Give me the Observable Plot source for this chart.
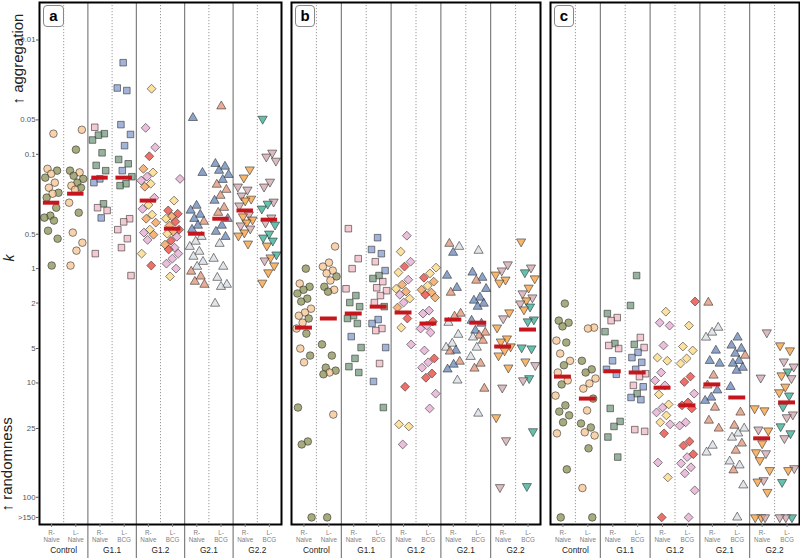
<!DOCTYPE html>
<html><head><meta charset="utf-8">
<script src="https://cdn.jsdelivr.net/npm/d3@7"></script>
<script src="https://cdn.jsdelivr.net/npm/@observablehq/plot@0.6"></script>
<style>
body{margin:0;background:#fff;font-family:"Liberation Sans",Arial,sans-serif;}
#wrap{position:relative;width:800px;height:558px;overflow:hidden;background:#fff;}
.chart{position:absolute;top:0;}
.tag{position:absolute;top:5px;height:20px;border:1px solid #888;border-radius:4px;font:bold 15px "Liberation Sans",Arial,sans-serif;text-align:center;line-height:20px;background:#fff;color:#000;box-sizing:content-box;}
</style></head><body><div id="wrap"></div>
<script>
// ---------- categories & labels ----------
const groups = ["Control", "G1.1", "G1.2", "G2.1", "G2.2"];
const columnLabels = ["R-\nNaive","L-\nNaive","R-\nNaive","L-\nBCG","R-\nNaive","L-\nBCG","R-\nNaive","L-\nBCG","R-\nNaive","L-\nBCG"];
const yTicks = [0.01, 0.05, 0.1, 0.5, 1, 2, 5, 10, 25, 100, 150];
const yTickLabels = ["0.01","0.05","0.1","0.5","1","2","5","10","25","100",">150"];
const panelTags = ["a", "b", "c"];

// ---------- colour palettes per group (letter codes) ----------
const palettes = {
  "Control": {o: "#858B4B", p: "#F5C08A"},
  "G1.1": {s: "#6F9577", k: "#F0B4BF", b: "#7E97CC"},
  "G1.2": {p: "#E3A5CF", y: "#FBD67A", r: "#E8392E", o: "#F2984A"},
  "G2.1": {b: "#5F7FB5", s: "#DF8E6D", g: "#D5DBE0"},
  "G2.2": {o: "#F59A35", m: "#CFA2A8", t: "#2AA88E"}
};

// ---------- panel a: k values per column and colour codes ----------
const kA = [
  [0.066,0.134,0.139,0.148,0.16,0.177,0.196,0.217,0.221,0.239,0.293,0.344,0.358,0.38,0.466,0.547,0.94],
  [0.061,0.091,0.139,0.144,0.154,0.164,0.177,0.188,0.196,0.204,0.265,0.324,0.484,0.593,0.696,0.94],
  [0.058,0.066,0.068,0.075,0.097,0.125,0.139,0.164,0.177,0.271,0.293,0.31,0.36,0.739],
  [0.0158,0.0263,0.0277,0.055,0.067,0.084,0.111,0.121,0.139,0.157,0.181,0.188,0.366,0.39,0.456,0.547,0.655,1.15],
  [0.0267,0.0587,0.087,0.104,0.134,0.144,0.157,0.17,0.181,0.192,0.24,0.277,0.30,0.337,0.366,0.396,0.456,0.484,0.505,0.56,0.739,0.94],
  [0.164,0.254,0.31,0.331,0.35,0.366,0.388,0.42,0.456,0.475,0.495,0.526,0.57,0.617,0.655,0.68,0.739,0.818,0.904,1.0,1.17],
  [0.048,0.145,0.281,0.31,0.337,0.366,0.388,0.42,0.456,0.526,0.58,0.643,0.71,0.785,0.87,0.96,1.06,1.17,1.3,1.38],
  [0.038,0.121,0.128,0.139,0.151,0.167,0.184,0.204,0.23,0.254,0.293,0.324,0.366,0.42,0.475,0.526,0.605,0.818,0.96,1.2,1.38,1.44,2.02],
  [0.136,0.16,0.192,0.204,0.23,0.245,0.254,0.281,0.337,0.35,0.373,0.396,0.42,0.447,0.484,0.515,0.605],
  [0.049,0.097,0.105,0.114,0.174,0.192,0.26,0.271,0.299,0.358,0.396,0.413,0.495,0.536,0.57,0.63,0.754,0.80,0.85,0.94,1.08,1.33]
];
const cA = ["ppopoppopoooooooo","poopooopoppopppp","kssssssbbskkbk","bbbbbbssbssskkkkkk","ypproyppyopypyooypopyr",
  "pyrroyroroyproprppppy","bbbbbbsbbgggggggssss","sbbbbbsssbssbbbbggggggg","oommmoommooommooo","tmmmmmmttmmttttotomooo"];
const medA = [0.265,0.221,0.16,0.16,0.254,0.447,0.495,0.366,0.31,0.373];

// ---------- panel b ----------
const kB = [
  [1.0,1.35,1.44,1.53,1.65,1.83,1.94,2.24,2.42,2.58,2.73,2.97,3.34,3.7,5.0,5.76,6.6,16.4,32.5,34.5,150],
  [0.64,0.886,0.96,1.04,1.1,1.17,1.27,1.44,1.53,1.59,4.6,5.76,7.35,7.8,8.1,8.4,18.9,150],
  [0.447,0.818,1.0,1.5,1.72,1.98,2.15,2.58,2.73,3.02,3.93,4.9,6.1,7.2,8.1],
  [0.536,0.68,0.74,0.87,1.04,1.15,1.22,1.3,1.47,1.56,1.72,1.98,2.15,2.79,3.02,3.34,3.48,4.9,6.76,9.7,16.4],
  [0.515,0.71,0.87,0.96,1.08,1.25,1.38,1.5,1.59,1.69,1.83,1.98,2.19,2.73,3.28,4.6,10.8,23,24,34.5],
  [0.98,1.1,1.2,1.3,1.41,1.53,1.62,1.69,1.79,2.33,2.47,2.9,3.15,3.34,3.62,5.2,6.1,6.6,7.35,8.26,9.0,12.4,16.7],
  [0.605,0.643,0.725,1.15,1.47,1.62,2.47,2.62,2.97,3.78,4.52,4.9,5.2,5.3,6.5,6.9,7.6,9.5],
  [0.696,1.08,1.2,1.27,1.5,1.79,1.9,2.02,2.15,2.85,3.02,3.48,3.62,3.85,3.99,4.26,4.9,5.9,6.76,7.47,11.2,18.5],
  [0.92,1.04,1.13,1.25,1.33,2.42,2.73,3.28,4.09,4.35,4.8,5.2,5.76,7.35,11.0,20.0,31.8,81.7],
  [0.58,0.98,1.08,1.22,1.47,1.65,1.79,1.9,2.02,2.15,2.28,2.79,2.9,4.9,5.0,6.5,7.0,9.1,9.5,26.5,80]
];
const cB = ["opooooopppoppopopoooo","pppppopopooooopopo","kkkkssssssbssss","bbbkbsskkkkksbbkkbkbs","pyprypoyopyporypryyp",
  "yyroyooropprpppprpprrpp","sgbbbsssggggbssbbg","gbbsbbbbbbbbssgsggsssg","mmoooomooooooomomm","omtoommomtottttomtmtt"];
const medB = [3.28,2.73,2.47,2.15,2.42,3.02,2.79,2.97,4.8,3.41];

// ---------- panel c ----------
const kC = [
  [2.02,2.85,2.97,3.2,4.26,4.43,5.53,6.4,7.0,8.1,9.5,10.3,12.9,15.7,17.8,19.2,22.1,27.6,57,150],
  [3.28,3.34,6.4,7.6,8.1,9.14,10.1,11.2,13.7,17.4,22.6,24.5,27,28.8,37.3,83,150],
  [2.47,2.68,2.85,3.56,4.52,4.7,5.0,6.4,7.6,8.4,16.7,21.7,24,29.7,44.5],
  [1.15,2.1,4.0,4.6,4.9,5.4,6.0,6.6,7.6,8.3,8.8,10.5,10.8,12.4,13.4,14,25.6,26.5],
  [2.38,2.97,3.15,4.7,6.0,6.4,8.1,9.5,10.5,12.6,15.4,16.4,18.1,19.2,22.1,23,27.6,49.7,67,150],
  [1.94,3.15,4.8,5.2,6.1,6.76,8.8,9.8,12.4,14.8,15.7,16.7,22.1,23.6,32.5,35.3,42,44.5,50.5,54.6,61.7,87,150],
  [1.98,3.28,3.62,4.0,5.2,6.4,6.76,8.6,10.5,11.6,13.4,14.3,16.4,21.3,25,35.3,40.5],
  [4.0,4.7,5.0,5.53,5.76,6.4,6.76,7.35,7.8,10.8,18.1,23.6,25,27.6,30,33.8,39,48.5,52.5,58,78.5,150],
  [3.62,9.0,16.7,17.4,25.6,26.1,33.8,40.5,41.3,47.5,58,71,73,90,150,150,150],
  [4.7,5.2,6.5,7.2,7.95,8.6,9.1,10.8,12.1,12.9,16.1,18.9,20,24,27.6,30.5,55.8,58,73.7,150,150,150]
];
const cC = ["oooopoppoppopoooopoo","ppooopppopooppopo","skksskkbbbsssss","sskskbbbbkkkbsbbkk","ypppyypppyyppyyprpyr",
  "ryyyyyrrprrrpprrrpppppp","sgggbbbssbbbsssgg","bbbbsbbbbbssgggssggsgg","mmoomooomoomoooom","oommtomoottmmttmmottmm"];
const medC = [8.8,13.7,7.9,8.1,11.0,15.7,10.3,13.4,30.5,14.8];

// ---------- symbols ----------
const triangleDown = {
  draw(ctx, size) {
    const s3 = Math.sqrt(3);
    const y = -Math.sqrt(size / (s3 * 3));
    ctx.moveTo(0, -y * 2);
    ctx.lineTo(-s3 * y, y);
    ctx.lineTo(s3 * y, y);
    ctx.closePath();
  }
};
const symbols = {"Control": "circle", "G1.1": "square", "G1.2": "diamond2", "G2.1": "triangle", "G2.2": triangleDown};
const sizes = {"Control": 3.8, "G1.1": 3.7, "G1.2": 4.0, "G2.1": 3.4, "G2.2": 3.4};

function rows(kVals, codes) {
  const out = [];
  kVals.forEach((vals, j) => {
    const g = groups[Math.floor(j / 2)];
    vals.forEach((k, i) => {
      const jit = ((((i + 1) * 0.6180339887 + j * 0.2718) % 1) - 0.5) * 0.64; // horizontal jitter (layout only)
      out.push({col: j, group: g, k, color: palettes[g][codes[j][i]], jx: j + jit});
    });
  });
  return out;
}

function panel({kVals, codes, medians, width, marginLeft, marginRight, showY}) {
  const data = rows(kVals, codes);
  const marks = [
    Plot.ruleX([0.5, 2.5, 4.5, 6.5, 8.5], {stroke: "#9a9a9a", strokeDasharray: "1.2,1.8", strokeWidth: 1}),
    Plot.ruleX([1.5, 3.5, 5.5, 7.5], {stroke: "#666", strokeWidth: 1, insetBottom: -34}),
    ...groups.map(g => Plot.dot(data.filter(d => d.group === g), {
      x: "jx", y: "k", fill: "color", symbol: symbols[g], r: sizes[g],
      stroke: "#333", strokeWidth: 0.6, fillOpacity: 0.72
    })),
    Plot.ruleY(medians, {x1: (d, i) => i - 0.34, x2: (d, i) => i + 0.34, y: d => d, stroke: "#C4161C", strokeWidth: 4}),
    Plot.frame({stroke: "#000", strokeWidth: 2}),
    Plot.axisX({ticks: d3.range(10), tickFormat: i => columnLabels[i], tickSize: 3, tickPadding: 2.5,
      fontSize: 6.3, color: "#808080", lineHeight: 1.12, label: null}),
    Plot.axisX({ticks: [0.5, 2.5, 4.5, 6.5, 8.5], tickFormat: v => groups[Math.round((v - 0.5) / 2)],
      tickSize: 0, tickPadding: 22.5, fontSize: 8.3, color: "#222", label: null})
  ];
  if (showY) {
    marks.push(
      Plot.ruleY(yTicks, {y: d => d, x1: -0.5, x2: -0.5, insetLeft: -3, stroke: "#555", strokeWidth: 1}),
      Plot.text(yTicks, {y: d => d, text: (d, i) => yTickLabels[i], frameAnchor: "left", textAnchor: "end",
        dx: -4, fontSize: 7.8, fill: "#555"}),
      Plot.text(["↑ aggregation"], {frameAnchor: "top-left", text: d => d, rotate: -90, textAnchor: "start",
        dx: -27.5, dy: 102, fontSize: 15, fill: "#222"}),
      Plot.text(["↑ randomness"], {frameAnchor: "bottom-left", text: d => d, rotate: -90, textAnchor: "start",
        dx: -27.5, dy: -13, fontSize: 15, fill: "#222"}),
      Plot.text(["k"], {frameAnchor: "left", text: d => d, rotate: -90, dx: -30, dy: -2,
        fontSize: 14, fontStyle: "italic", fill: "#222"})
    );
  }
  return Plot.plot({
    width, height: 558, marginTop: 2, marginBottom: 34, marginLeft, marginRight,
    style: {fontFamily: "Liberation Sans, Arial, sans-serif", background: "transparent", overflow: "visible"},
    x: {type: "linear", domain: [-0.5, 9.5]},
    y: {type: "log", domain: [0.0047, 173], reverse: true, axis: null},
    marks
  });
}

const wrap = document.getElementById("wrap");
const specs = [
  {left: 0, width: 286, marginLeft: 39, marginRight: 5, showY: true, kVals: kA, codes: cA, medians: medA, tagLeft: 43, tagW: 19},
  {left: 286, width: 259, marginLeft: 5, marginRight: 5, showY: false, kVals: kB, codes: cB, medians: medB, tagLeft: 295, tagW: 18},
  {left: 545, width: 255, marginLeft: 5, marginRight: 1, showY: false, kVals: kC, codes: cC, medians: medC, tagLeft: 554, tagW: 18}
];
specs.forEach((s, idx) => {
  const div = document.createElement("div");
  div.className = "chart";
  div.style.left = s.left + "px";
  div.appendChild(panel(s));
  wrap.appendChild(div);
  const tag = document.createElement("div");
  tag.className = "tag";
  tag.style.left = s.tagLeft + "px";
  tag.style.width = s.tagW + "px";
  tag.textContent = panelTags[idx];
  wrap.appendChild(tag);
});
</script></body></html>
